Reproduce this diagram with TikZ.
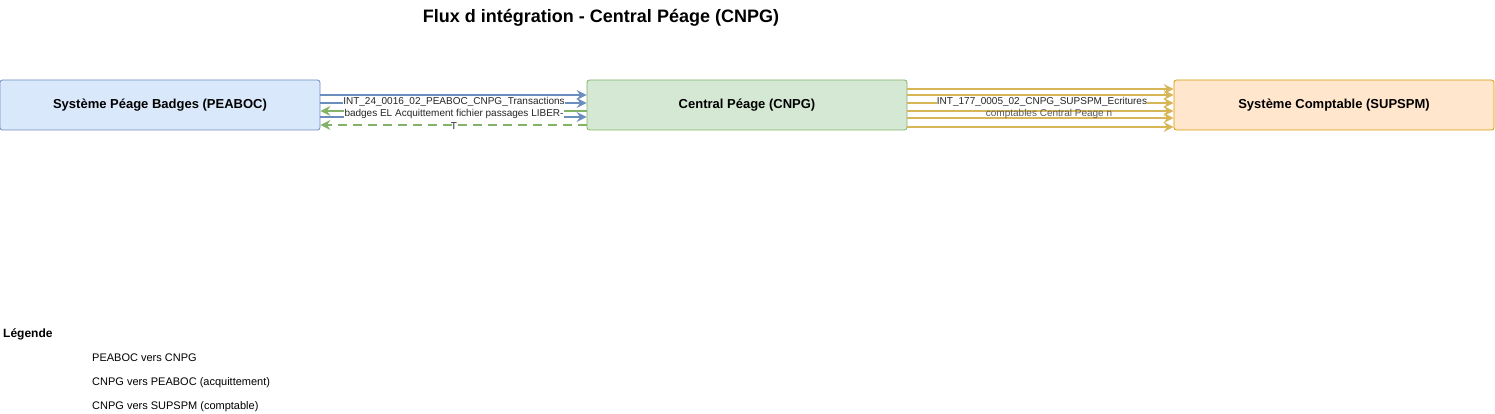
\documentclass[tikz,border=0pt]{standalone}
\usepackage{fontspec}
\setmainfont{Liberation Sans}
\usetikzlibrary{arrows.meta}
\definecolor{bluefill}{HTML}{DAE8FC}
\definecolor{bluedraw}{HTML}{6C8EBF}
\definecolor{greenfill}{HTML}{D5E8D4}
\definecolor{greendraw}{HTML}{82B366}
\definecolor{orangefill}{HTML}{FFE6CC}
\definecolor{orangedraw}{HTML}{D79B00}
\definecolor{yellowdraw}{HTML}{D6B656}
\tikzset{
  sysbox/.style={draw, line width=0.8pt, rounded corners=2.5pt, minimum width=320pt, minimum height=50pt, inner sep=0pt, font=\fontsize{13}{15}\selectfont\bfseries},
  flow/.style={line width=1.7pt, -{Stealth[length=10pt,width=10pt,inset=3.5pt]}},
  bluef/.style={flow, draw=bluedraw},
  greenf/.style={flow, draw=greendraw},
  yellowf/.style={flow, draw=yellowdraw},
  elabel/.style={font=\fontsize{10}{12}\selectfont, inner sep=0.3pt, text=black!85},
  legtext/.style={font=\fontsize{11}{13}\selectfont, anchor=west, inner sep=0pt}
}
\begin{document}
\begin{tikzpicture}[x=1pt,y=-1pt]
\useasboundingbox (0,0) rectangle (1495,414);
\node[font=\fontsize{18}{21}\selectfont\bfseries] (title) at (601,18) {Flux d intégration - Central Péage (CNPG)};
\node[sysbox, fill=bluefill, draw=bluedraw] (peaboc) at (160,105) {Système Péage Badges (PEABOC)};
\node[sysbox, fill=greenfill, draw=greendraw] (cnpg) at (747,105) {Central Péage (CNPG)};
\node[sysbox, fill=orangefill, draw=orangedraw] (supspm) at (1334,105) {Système Comptable (SUPSPM)};
% PEABOC -> CNPG
\draw[bluef] ([yshift=10pt]peaboc.east) -- ([yshift=10pt]cnpg.west);
\draw[bluef] ([yshift=2pt]peaboc.east) -- ([yshift=2pt]cnpg.west);
\draw[bluef] ([yshift=-12pt]peaboc.east) -- ([yshift=-12pt]cnpg.west);
% CNPG -> PEABOC
\draw[greenf] ([yshift=-6pt]cnpg.west) -- ([yshift=-6pt]peaboc.east);
\draw[greenf, dash pattern=on 9pt off 6pt] ([yshift=-20pt]cnpg.west) -- ([yshift=-20pt]peaboc.east);
% CNPG -> SUPSPM
\draw[yellowf] ([yshift=16pt]cnpg.east) -- ([yshift=16pt]supspm.west);
\draw[yellowf] ([yshift=10pt]cnpg.east) -- ([yshift=10pt]supspm.west);
\draw[yellowf] ([yshift=2pt]cnpg.east) -- ([yshift=2pt]supspm.west);
\draw[yellowf] ([yshift=-6pt]cnpg.east) -- ([yshift=-6pt]supspm.west);
\draw[yellowf] ([yshift=-13pt]cnpg.east) -- ([yshift=-13pt]supspm.west);
\draw[yellowf] ([yshift=-22pt]cnpg.east) -- ([yshift=-22pt]supspm.west);
% labels
\node[elabel, fill=white] (la1) at (454,102) {INT\_24\_0016\_02\_PEABOC\_CNPG\_Transactions};
\node[elabel, fill=white] (la2) at (454,113.5) {badges EL Acquittement fichier passages LIBER-};
\node[elabel] (la3) at (454,126) {T};
\node[elabel, fill=white] (lb1) at (1042,102) {INT\_177\_0005\_02\_CNPG\_SUPSPM\_Ecritures};
\node[elabel, text=black!65] (lb2) at (1049,113.5) {comptables Central Peage n};
% legend
\node[font=\fontsize{12}{14}\selectfont\bfseries, anchor=west, inner sep=0pt] (leg) at (3,334) {Légende};
\node[legtext] (leg1) at (92,358) {PEABOC vers CNPG};
\node[legtext] (leg2) at (92,383) {CNPG vers PEABOC (acquittement)};
\node[legtext] (leg3) at (92,407) {CNPG vers SUPSPM (comptable)};
\end{tikzpicture}
\end{document}
